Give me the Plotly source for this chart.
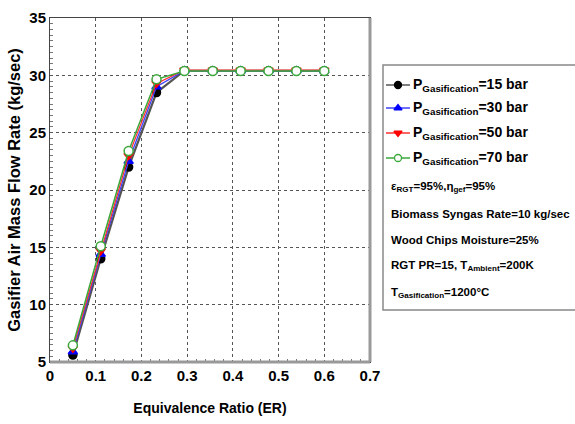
import plotly.graph_objects as go

er = [0.05, 0.111, 0.172, 0.233, 0.294, 0.356, 0.417, 0.478, 0.539, 0.6]
p15 = [5.6, 14.0, 22.0, 28.5, 30.4, 30.4, 30.4, 30.4, 30.4, 30.4]
p30 = [5.9, 14.4, 22.5, 29.0, 30.4, 30.4, 30.4, 30.4, 30.4, 30.4]
p50 = [6.2, 14.7, 23.0, 29.3, 30.45, 30.45, 30.45, 30.45, 30.45, 30.45]
p70 = [6.45, 15.1, 23.4, 29.65, 30.38, 30.38, 30.38, 30.38, 30.38, 30.38]

series_names = ["15 bar", "30 bar", "50 bar", "70 bar"]
notes = [
    "ε<sub>RGT</sub>=95%,η<sub>gef</sub>=95%",
    "Biomass Syngas Rate=10 kg/sec",
    "Wood Chips Moisture=25%",
    "RGT PR=15, T<sub>Ambient</sub>=200K",
    "T<sub>Gasification</sub>=1200°C",
]

FONT = "Liberation Sans Narrow, Arial Narrow, Liberation Sans, Arial, sans-serif"
ARIAL = "Liberation Sans, Arial, sans-serif"

styles = [
    dict(color="#000000", symbol="circle", fill="#000000", size=8, lw=2.2, lc="#555555"),
    dict(color="#0000ff", symbol="triangle-up", fill="#0000ff", size=8, lw=1.3, lc="#4040ff"),
    dict(color="#ff0000", symbol="triangle-down", fill="#ff0000", size=8, lw=1.3, lc="#ff3030"),
    dict(color="#3aa83a", symbol="circle", fill="#ffffff", size=9, lw=1.5, lc="#3aa83a"),
]

fig = go.Figure()
for ys, st in zip([p15, p30, p50, p70], styles):
    fig.add_trace(go.Scatter(
        x=er, y=ys, mode="lines+markers", showlegend=False,
        line=dict(color=st["lc"], width=st["lw"]),
        marker=dict(symbol=st["symbol"], size=st["size"], color=st["fill"],
                    line=dict(color=st["color"], width=1.5)),
        xaxis="x", yaxis="y",
    ))

# Legend box drawn in pixel-coordinate overlay axes
leg_y = [85, 108, 133, 158]
for name, st, yy in zip(series_names, styles, leg_y):
    fig.add_trace(go.Scatter(
        x=[386, 410], y=[yy, yy], mode="lines", showlegend=False,
        line=dict(color=st["lc"], width=1.3), xaxis="x2", yaxis="y2",
        hoverinfo="skip"))
    fig.add_trace(go.Scatter(
        x=[398], y=[yy], mode="markers", showlegend=False,
        marker=dict(symbol=st["symbol"], size=7, color=st["fill"],
                    line=dict(color=st["color"], width=1.3)),
        xaxis="x2", yaxis="y2", hoverinfo="skip"))
    fig.add_annotation(x=411, y=yy, xref="x2", yref="y2", xanchor="left", yanchor="middle",
                       text="P<sub>Gasification</sub>=" + name, showarrow=False,
                       font=dict(family=FONT, size=14, color="black", weight="bold"))

note_y = [187, 214, 240, 266, 293]
for t, yy in zip(notes, note_y):
    fig.add_annotation(x=389, y=yy, xref="x2", yref="y2", xanchor="left", yanchor="middle",
                       text=t, showarrow=False,
                       font=dict(family=FONT, size=11.5, color="black", weight="bold"))

fig.add_shape(type="rect", x0=383, x1=578, y0=65, y1=310, xref="x2", yref="y2",
              line=dict(color="#888888", width=1.5), fillcolor="rgba(0,0,0,0)")

# 3D-like frame on right and bottom
fig.add_shape(type="line", xref="paper", yref="paper", x0=0, x1=320/525, y0=0, y1=0,
              line=dict(color="#999999", width=3))
fig.add_shape(type="line", xref="paper", yref="paper", x0=320/525, x1=320/525, y0=0, y1=1,
              line=dict(color="#999999", width=3))

fig.update_layout(
    width=575, height=424,
    margin=dict(l=50, r=0, t=18, b=62, autoexpand=False),
    paper_bgcolor="white", plot_bgcolor="white",
    font=dict(family=FONT, color="black"),
    xaxis=dict(
        domain=[0, 320/525], range=[0, 0.7], dtick=0.1, automargin=False, tickangle=0,
        showgrid=True, gridcolor="#555555", griddash="dot", gridwidth=1,
        zeroline=False, showline=True, linecolor="#444444", linewidth=1, mirror=True,
        ticks="", tickfont=dict(family=FONT, size=15, color="black", weight="bold"),
        minor=dict(dtick=0.02, ticks="inside", ticklen=3, tickcolor="#777777", showgrid=False),
        title=dict(text="Equivalence Ratio (ER)", standoff=20,
                   font=dict(family=FONT, size=14, color="black", weight="bold")),
    ),
    yaxis=dict(
        range=[5, 35], dtick=5, automargin=False,
        showgrid=True, gridcolor="#555555", griddash="dot", gridwidth=1,
        zeroline=False, showline=True, linecolor="#444444", linewidth=1, mirror=True,
        ticks="", tickfont=dict(family=FONT, size=15, color="black", weight="bold"),
        minor=dict(dtick=0.5, ticks="inside", ticklen=3, tickcolor="#777777", showgrid=False),
        title=dict(text="Gasifier Air Mass Flow Rate (kg/sec)", standoff=4,
                   font=dict(family=ARIAL, size=16.5, color="black", weight="bold")),
    ),
    xaxis2=dict(domain=[0.62, 1.0], range=[375.5, 575], visible=False, anchor="y2", fixedrange=True),
    yaxis2=dict(domain=[0, 1], range=[362, 18], visible=False, anchor="x2", fixedrange=True),
)

fig.write_html("out.html")
